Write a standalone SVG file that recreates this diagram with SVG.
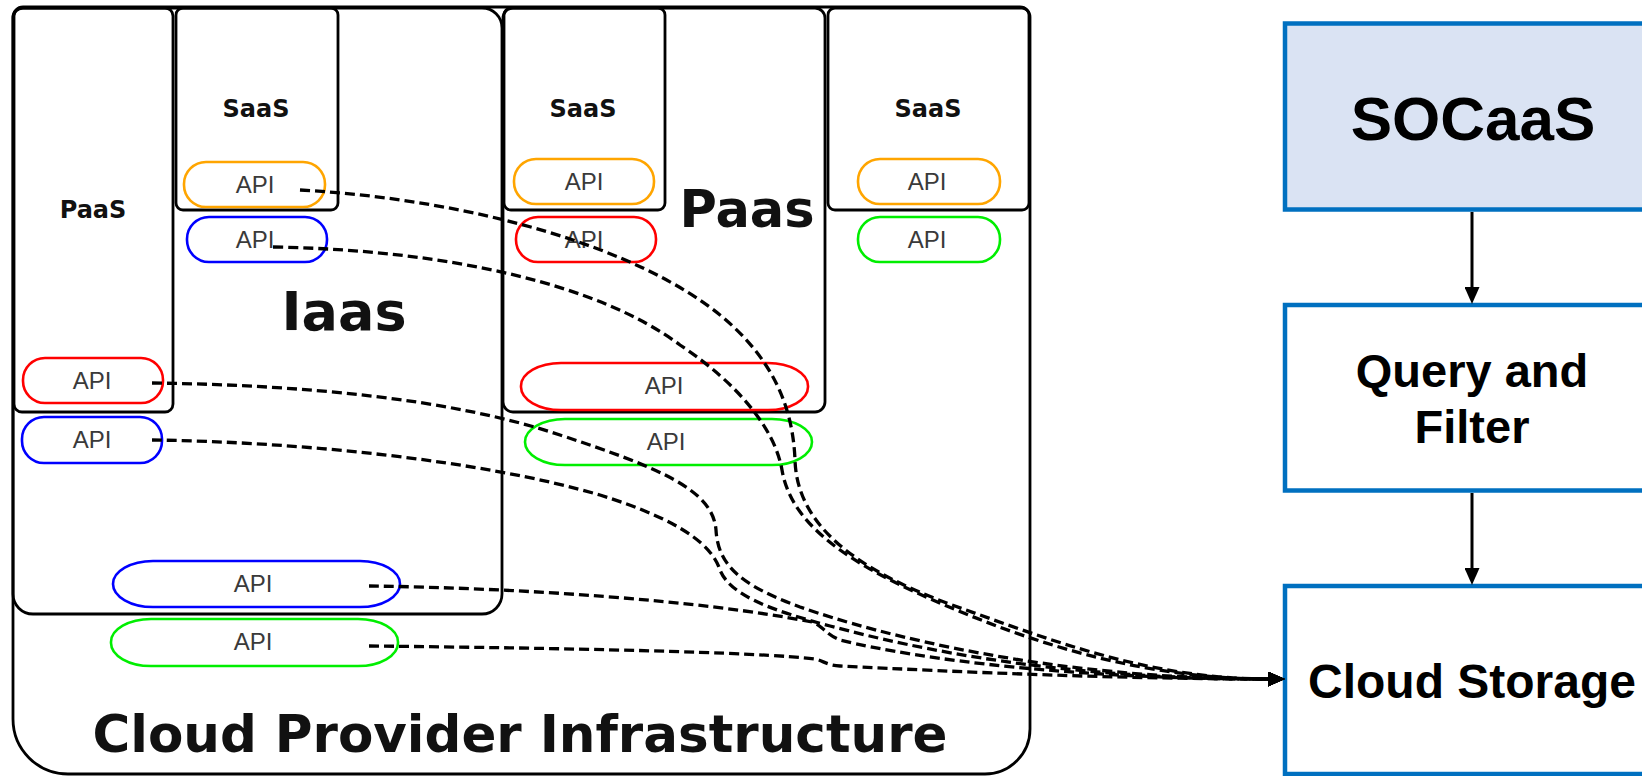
<svg xmlns="http://www.w3.org/2000/svg" width="1642" height="776" viewBox="0 0 1642 776">
<style>
.box{fill:none;stroke:#000;stroke-width:2.8}
.pill{fill:#fff;stroke-width:2.6}
.o{stroke:#FFA500}.b{stroke:#0000FF}.r{stroke:#FF0000}.g{stroke:#00EE00}
.api{font-family:"Liberation Sans",Arial,sans-serif;font-size:24px;fill:#3a3a3a;text-anchor:middle}
.lbl{font-family:"DejaVu Sans",sans-serif;font-weight:bold;fill:#111;text-anchor:middle}
.conn{fill:none;stroke:#000;stroke-width:3.3;stroke-dasharray:10 5}
.nb{stroke:#0070C0;stroke-width:4.5}
.nt{font-family:"Liberation Sans",Arial,sans-serif;font-weight:bold;fill:#000;text-anchor:middle}
</style>
<defs>
<marker id="ah" markerUnits="userSpaceOnUse" markerWidth="17" markerHeight="15" refX="0" refY="7.5" orient="auto">
<path d="M0,0 L17,7.5 L0,15 z" fill="#000"/>
</marker>
</defs>
<rect width="1642" height="776" fill="#fff"/>
<g id="cloud-provider">
<path class="box" d="M13,17 A10,10 0 0 1 23,7 L1020,7 A10,10 0 0 1 1030,17 L1030,729 A45,45 0 0 1 985,774 L68,774 A55,55 0 0 1 13,719 Z"/>
<text class="lbl" x="520" y="752" font-size="51.5">Cloud Provider Infrastructure</text>
</g>
<g id="iaas">
<path class="box" d="M13,18 A10,10 0 0 1 23,8 L482,8 A20,20 0 0 1 502,28 L502,594 A20,20 0 0 1 482,614 L33,614 A20,20 0 0 1 13,594 Z"/>
<text class="lbl" x="344" y="330" font-size="54">Iaas</text>
</g>
<g id="paas-left">
<rect class="box" x="14" y="8" width="159" height="404" rx="8"/>
<text class="lbl" x="93" y="218" font-size="24">PaaS</text>
</g>
<g id="saas-1">
<rect class="box" x="176" y="8" width="162" height="202" rx="7"/>
<text class="lbl" x="256" y="117" font-size="24">SaaS</text>
</g>
<g id="paas-2">
<rect class="box" x="503" y="8" width="322" height="404" rx="10"/>
<text class="lbl" x="747" y="227" font-size="51">Paas</text>
</g>
<g id="saas-2">
<rect class="box" x="504" y="8" width="161" height="202" rx="7"/>
<text class="lbl" x="583" y="117" font-size="24">SaaS</text>
</g>
<g id="saas-3">
<rect class="box" x="828" y="8" width="201" height="202" rx="7"/>
<text class="lbl" x="928" y="117" font-size="24">SaaS</text>
</g>
<g id="api-saas1-orange"><rect class="pill o" x="184" y="162" width="141" height="45" rx="22"/><text class="api" x="255" y="193">API</text></g>
<g id="api-saas1-blue"><rect class="pill b" x="187" y="217" width="140" height="45" rx="22"/><text class="api" x="255" y="248">API</text></g>
<g id="api-saas2-orange"><rect class="pill o" x="514" y="159" width="140" height="45" rx="22"/><text class="api" x="584" y="190">API</text></g>
<g id="api-saas2-red"><rect class="pill r" x="516" y="217" width="140" height="45" rx="22"/><text class="api" x="584" y="248">API</text></g>
<g id="api-saas3-orange"><rect class="pill o" x="858" y="159" width="142" height="45" rx="22"/><text class="api" x="927" y="190">API</text></g>
<g id="api-saas3-green"><rect class="pill g" x="858" y="217" width="142" height="45" rx="22"/><text class="api" x="927" y="248">API</text></g>
<g id="api-paas-red"><rect class="pill r" x="23" y="358" width="140" height="45" rx="22"/><text class="api" x="92" y="389">API</text></g>
<g id="api-paas-blue"><rect class="pill b" x="22" y="417" width="140" height="46" rx="22"/><text class="api" x="92" y="448">API</text></g>
<g id="api-paas2-red"><rect class="pill r" x="521" y="363" width="287" height="47" rx="40" ry="23"/><text class="api" x="664" y="394">API</text></g>
<g id="api-paas2-green"><rect class="pill g" x="525" y="419" width="287" height="46" rx="40" ry="23"/><text class="api" x="666" y="450">API</text></g>
<g id="api-iaas-blue"><rect class="pill b" x="113" y="561" width="287" height="46" rx="40" ry="23"/><text class="api" x="253" y="592">API</text></g>
<g id="api-iaas-green"><rect class="pill g" x="111" y="619" width="287" height="47" rx="40" ry="23"/><text class="api" x="253" y="650">API</text></g>
<g id="socaas">
<rect class="nb" x="1285" y="23.5" width="400" height="186" fill="#DAE3F3"/>
<text class="nt" x="1473" y="140" font-size="62">SOCaaS</text>
</g>
<g id="query-filter">
<rect class="nb" x="1285" y="305" width="400" height="185.5" fill="#fff"/>
<text class="nt" x="1472" y="387" font-size="47">Query and</text>
<text class="nt" x="1472" y="443" font-size="47">Filter</text>
</g>
<g id="cloud-storage">
<rect class="nb" x="1285" y="586" width="400" height="188" fill="#fff"/>
<text class="nt" x="1472" y="698" font-size="48">Cloud Storage</text>
</g>
<g id="connectors">
<path class="conn" marker-end="url(#ah)" d="M300,190 C480,200 640,250 720,315 C775,360 793,410 795,460 C797,525 855,570 955,606 C1050,640 1150,679 1268,679"/>
<path class="conn" marker-end="url(#ah)" d="M273,247 C450,250 600,285 680,345 C740,385 775,430 782,470 C790,518 835,555 915,592 C995,628 1120,679 1268,679"/>
<path class="conn" marker-end="url(#ah)" d="M152,383 C300,385 450,398 560,435 C660,468 713,490 716,530 C718,565 740,585 800,607 C880,635 1050,679 1268,679"/>
<path class="conn" marker-end="url(#ah)" d="M152,440 C300,442 480,460 600,495 C680,520 712,545 720,570 C730,595 770,610 830,626 C920,650 1060,679 1268,679"/>
<path class="conn" marker-end="url(#ah)" d="M369,586 C520,588 700,600 812,622 C822,625 825,634 840,640 C920,660 1080,679 1268,679"/>
<path class="conn" marker-end="url(#ah)" d="M369,646 C560,648 760,652 815,659 C824,661 826,665 840,666 C960,672 1120,679 1268,679"/>
<line x1="1472" y1="212" x2="1472" y2="287" stroke="#000" stroke-width="3" marker-end="url(#ah)"/>
<line x1="1472" y1="493" x2="1472" y2="568" stroke="#000" stroke-width="3" marker-end="url(#ah)"/>
</g>
</svg>
